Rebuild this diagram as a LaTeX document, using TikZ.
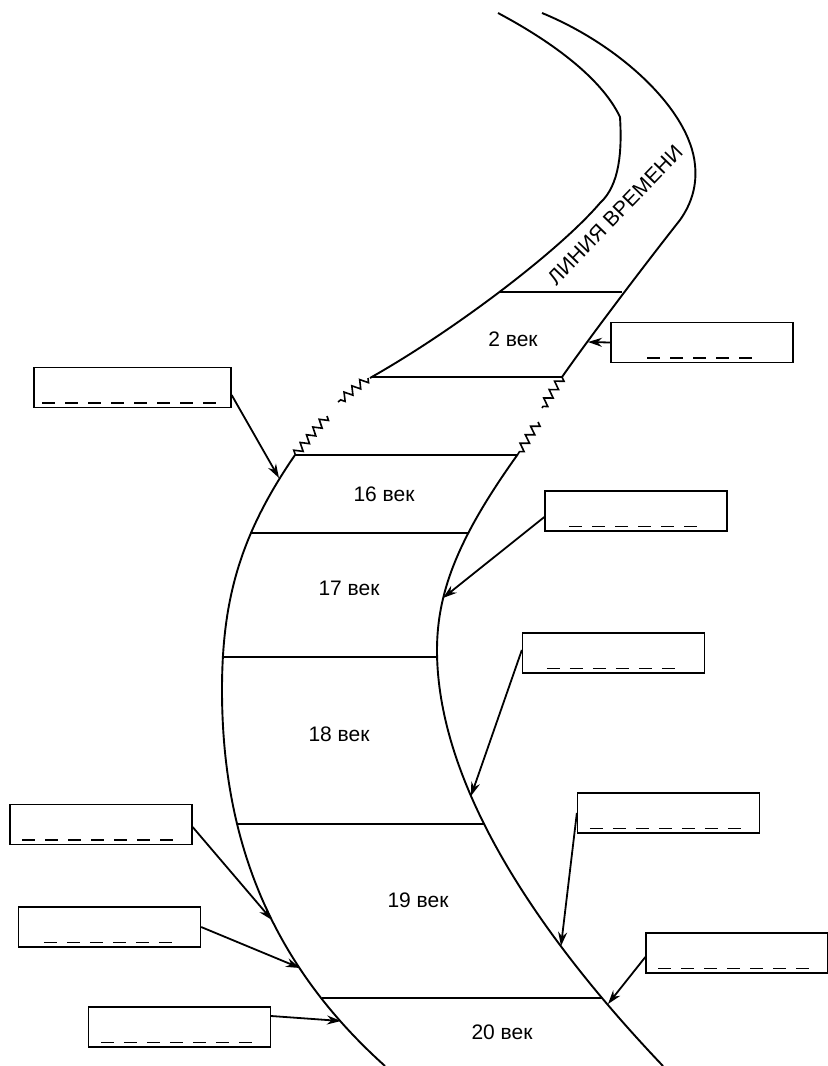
\documentclass[tikz,border=0pt]{standalone}
\usepackage{fontspec}
\setmainfont{Liberation Sans}
\usetikzlibrary{arrows.meta, decorations.pathmorphing}
\tikzset{
  kasten/.style={draw, line width=0.65pt, minimum width=91pt, minimum height=20pt, inner sep=0pt},
  luecke/.style={line width=0.7pt, dash pattern=on 6.5pt off 5pt},
  zeiger/.style={-{Stealth[length=7pt, width=4.5pt]}, line width=0.9pt},
  band/.style={line width=0.95pt},
  bruch/.style={line width=0.8pt, decorate, decoration={zigzag, amplitude=2pt, segment length=5pt}},
  jh/.style={font=\fontsize{10.5}{12}\selectfont},
}
\begin{document}
\begin{tikzpicture}[x=0.5pt, y=-0.5pt]
  \useasboundingbox (0,0) rectangle (828,1066);
  \draw[band] (498,13) .. controls (545,38) and (600,75) .. (620,117)
    .. controls (622,150) and (620,185) .. (600,203)
    .. controls (560,250) and (455,330) .. (370,378);
  \draw[band] (542,13) .. controls (620,45) and (690,110) .. (695,165)
    .. controls (697,185) and (692,203) .. (680,220)
    .. controls (650,258) and (595,330) .. (562,377);
  \draw[band] (295,455) .. controls (240,535) and (222,600) .. (222,690)
    .. controls (222,850) and (278,970) .. (385,1066);
  \draw[band] (518,454) .. controls (460,535) and (437,590) .. (437,650)
    .. controls (437,760) and (505,900) .. (663,1066);
  \draw[bruch] (368,378) -- (338,402);
  \draw[bruch] (327,416) -- (295,455);
  \draw[bruch] (562,377) -- (542,408);
  \draw[bruch] (538,422) -- (518,454);
  \draw[band] (499,292) -- (622,292);
  \draw[band] (371,377) -- (562,377);
  \draw[band] (295,455) -- (518,455);
  \draw[band] (250,533) -- (468,533);
  \draw[band] (222,657) -- (437,657);
  \draw[band] (237,824) -- (485,824);
  \draw[band] (322,998) -- (602,998);

  \node[jh, rotate=46] (titel) at (615,215) {ЛИНИЯ ВРЕМЕНИ};
  \node[jh] (c2) at (513,339) {2 век};
  \node[jh] (c16) at (384,494) {16 век};
  \node[jh] (c17) at (349,588) {17 век};
  \node[jh] (c18) at (339,734) {18 век};
  \node[jh] (c19) at (418,900) {19 век};
  \node[jh] (c20) at (502,1032) {20 век};

  \node[kasten, minimum width=98.5pt] (b1) at (132.5,387.5) {};
  \node[kasten] (b2) at (702,342.5) {};
  \node[kasten] (b3) at (636,511) {};
  \node[kasten] (b4) at (613.5,653) {};
  \node[kasten] (b5) at (668.5,813) {};
  \node[kasten] (b6) at (737,953) {};
  \node[kasten] (b7) at (101,824.5) {};
  \node[kasten] (b8) at (109.5,927) {};
  \node[kasten] (b9) at (179.5,1027) {};
  \foreach \n/\a/\b in {b1/9/189, b2/37/144, b3/25/157, b4/25/157, b5/13/169, b6/13/168, b7/13/168, b8/26/158, b9/13/169}
    \draw[luecke] ([shift={(\a,-5)}]\n.south west) -- ([shift={(\b,-5)}]\n.south west);

  \coordinate (t1) at (279,478);
  \coordinate (t2) at (588,342);
  \coordinate (t3) at (443,598);
  \coordinate (t4) at (471,796);
  \coordinate (t5) at (561,946);
  \coordinate (t6) at (608,1004);
  \coordinate (t7) at (272,920);
  \coordinate (t8) at (300,968);
  \coordinate (t9) at (341,1021);
  \draw[zeiger] ([shift={(0,7.5)}]b1.east) -- (t1);
  \draw[zeiger] (b2.west) -- (t2);
  \draw[zeiger] ([shift={(0,6)}]b3.west) -- (t3);
  \draw[zeiger] ([shift={(0,-3)}]b4.west) -- (t4);
  \draw[zeiger] (b5.west) -- (t5);
  \draw[zeiger] ([shift={(0,4)}]b6.west) -- (t6);
  \draw[zeiger] ([shift={(0,2.5)}]b7.east) -- (t7);
  \draw[zeiger] (b8.east) -- (t8);
  \draw[zeiger] ([shift={(0,-11)}]b9.east) -- (t9);
\end{tikzpicture}
\end{document}
